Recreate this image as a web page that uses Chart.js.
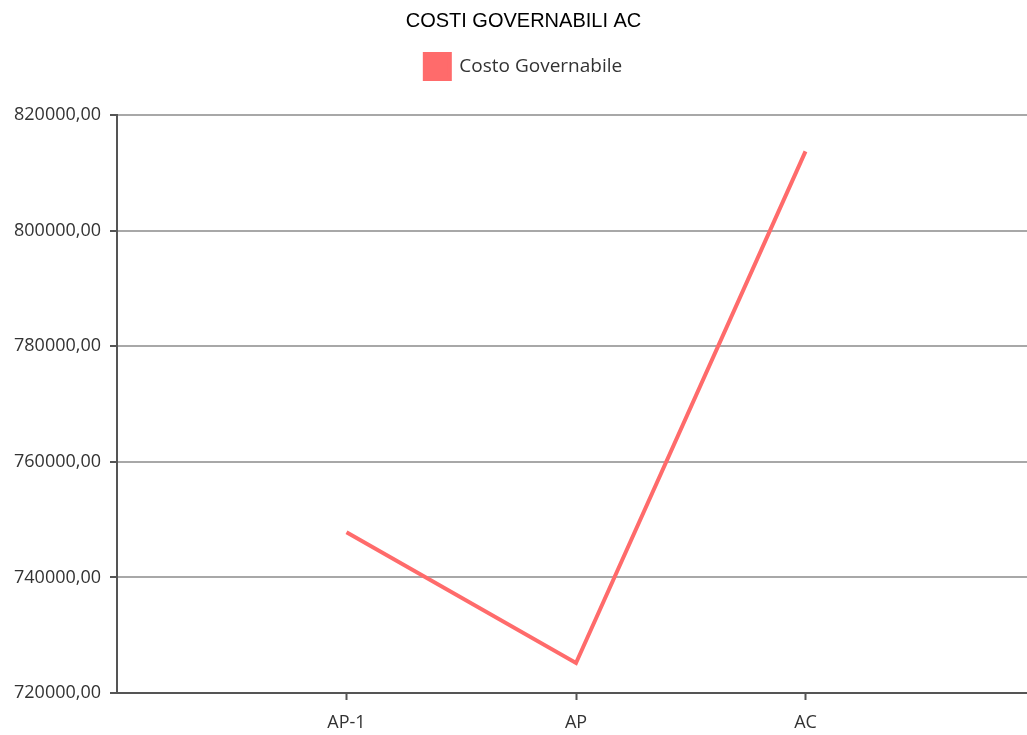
<!DOCTYPE html>
<html>
<head>
<meta charset="utf-8">
<script src="https://cdn.jsdelivr.net/npm/chart.js@4"></script>
<style>
  html, body { margin: 0; padding: 0; background: #fff; overflow: hidden; }
  canvas { display: block; }
</style>
</head>
<body>
<canvas id="costi-chart" width="1047" height="735"></canvas>
<script>
// categorie (vuote ai lati come nel grafico originale)
const categories = ['', 'AP-1', 'AP', 'AC', ''];
const costoGovernabile = [null, 747800, 725200, 813700, null];
const yMin = 720000, yMax = 820000, yStep = 20000;

const lineColor = '#ff6b6b';

// spazio extra sotto la legenda
const legendGap = {
  id: 'legendGap',
  beforeInit(chart) {
    const origFit = chart.legend.fit;
    chart.legend.fit = function () {
      origFit.bind(chart.legend)();
      this.height += 26;
    };
  }
};

const data = {
  labels: categories,
  datasets: [{
    label: 'Costo Governabile',
    data: costoGovernabile,
    borderColor: lineColor,
    backgroundColor: lineColor,
    borderWidth: 4,
    pointRadius: 0,
    tension: 0,
    fill: false,
  }]
};

const config = {
  type: 'line',
  data: data,
  options: {
    responsive: false,
    animation: false,
    plugins: {
      title: {
        display: true,
        text: 'COSTI GOVERNABILI AC',
        color: '#000',
        font: { family: 'Liberation Sans, Arial', size: 20, weight: 'normal' },
        padding: { top: 9, bottom: 11 }
      },
      legend: {
        display: true,
        labels: {
          boxWidth: 25,
          boxHeight: 25,
          color: '#333',
          font: { family: 'Open Sans', size: 19 },
          padding: 10
        }
      },
      tooltip: { enabled: false }
    },
    scales: {
      x: {
        offset: false,
        grid: {
          drawOnChartArea: false,
          tickColor: ctx => (ctx.tick && ctx.tick.label ? '#555' : 'rgba(0,0,0,0)'),
          tickLength: 7,
          tickWidth: 2
        },
        border: { color: '#555', width: 2 },
        ticks: {
          color: '#333',
          font: { family: 'Open Sans', size: 18 },
          maxRotation: 0,
          autoSkip: false,
          padding: 12
        },
        afterFit(scale) { scale.height = 42; }
      },
      y: {
        min: yMin,
        max: yMax,
        grid: {
          color: '#a8a8a8',
          lineWidth: 2,
          tickColor: '#555',
          tickLength: 7,
          tickWidth: 2
        },
        border: { color: '#555', width: 2 },
        ticks: {
          stepSize: yStep,
          color: '#333',
          font: { family: 'Open Sans', size: 18 },
          padding: 9,
          callback: function (value) {
            return value.toFixed(2).replace('.', ',');
          }
        },
        afterFit(scale) { scale.width = 117; }
      }
    }
  },
  plugins: [legendGap]
};

const myChart = new Chart(document.getElementById('costi-chart'), config);
</script>
</body>
</html>
